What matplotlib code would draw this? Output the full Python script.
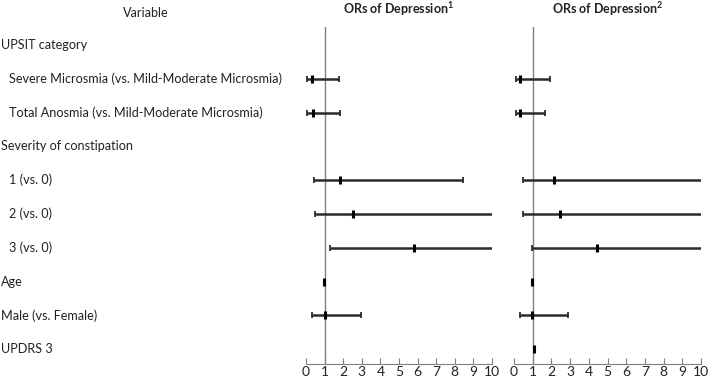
import numpy as np
import matplotlib.pyplot as plt
from matplotlib.transforms import blended_transform_factory

plt.rcParams['font.family'] = ['Lato', 'DejaVu Sans']
plt.rcParams['mathtext.fontset'] = 'custom'
plt.rcParams['mathtext.bf'] = 'Lato:bold'

labels = ["UPSIT category",
          "Severe Microsmia (vs. Mild-Moderate Microsmia)",
          "Total Anosmia (vs. Mild-Moderate Microsmia)",
          "Severity of constipation",
          "1 (vs. 0)", "2 (vs. 0)", "3 (vs. 0)",
          "Age", "Male (vs. Female)", "UPDRS 3"]
indented = [False, True, True, False, True, True, True, False, False, False]

nan = np.nan
inf = np.inf  # upper limit beyond the axis (drawn truncated at 10)

# model 1
or1 = [nan, 0.34, 0.38, nan, 1.83, 2.53, 5.82, 0.98, 1.0, nan]
lo1 = [nan, 0.07, 0.07, nan, 0.41, 0.48, 1.27, nan, 0.34, nan]
hi1 = [nan, 1.75, 1.83, nan, 8.45, inf, inf, nan, 2.98, nan]

# model 2
or2 = [nan, 0.32, 0.32, nan, 2.14, 2.46, 4.45, 0.97, 0.94, 1.07]
lo2 = [nan, 0.13, 0.13, nan, 0.47, 0.50, 0.96, nan, 0.32, nan]
hi2 = [nan, 1.95, 1.68, nan, inf, inf, inf, nan, 2.88, nan]

W, H = 708, 378
fig = plt.figure(figsize=(W / 100, H / 100), dpi=100)

axes = [fig.add_axes([306 / W, 14 / H, 186 / W, 337 / H]),
        fig.add_axes([514 / W, 14 / H, 187 / W, 337 / H])]
titles = [r"ORs of Depression$^\mathbf{1}$", r"ORs of Depression$^\mathbf{2}$"]
line_col = '#2b2b2b'
fs = 9.1

for ax, ors, los, his, title in zip(axes, [or1, or2], [lo1, lo2], [hi1, hi2], titles):
    y = np.arange(len(labels))
    ors, los, his = np.array(ors), np.array(los), np.array(his)
    ax.axvline(1, color='#808080', lw=1.0, zorder=1)
    ok = ~np.isnan(los)
    ax.hlines(y[ok], los[ok], np.minimum(his[ok], 10), color=line_col, lw=1.8, zorder=2)
    ax.plot(los[ok], y[ok], '|', color=line_col, ms=5, mew=1.3, zorder=3)
    capped = ok & np.isfinite(his)
    ax.plot(his[capped], y[capped], '|', color=line_col, ms=5, mew=1.3, zorder=3)
    ax.plot(ors, y, '|', color='black', ms=6, mew=2.2, zorder=4)

    ax.set_xlim(0, 10)
    ax.set_ylim(9.44, -0.53)
    ax.set_xticks(range(11))
    ax.set_yticks([])
    for s in ['top', 'right', 'left']:
        ax.spines[s].set_visible(False)
    ax.spines['bottom'].set_color('#808080')
    ax.tick_params(axis='x', direction='in', length=4, color='#808080',
                   labelsize=10, pad=1.5, labelcolor='#222222')
    ax.set_title(title, fontsize=9, fontweight='bold', pad=9, color='#222222')

tr = blended_transform_factory(fig.transFigure, axes[0].transData)
for i, (lab, ind) in enumerate(zip(labels, indented)):
    fig.text((9 if ind else 1) / W, i, lab, transform=tr, va='center', ha='left',
             fontsize=fs, color='#222222')
fig.text(146 / W, 1 - 13 / H, "Variable", ha='center', va='center',
         fontsize=fs, color='#222222')

fig.savefig('out.png', dpi=100)
